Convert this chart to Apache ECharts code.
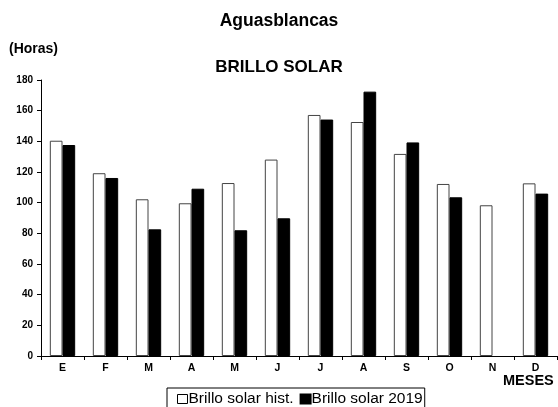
<!DOCTYPE html>
<html><head><meta charset="utf-8">
<script src="https://cdn.jsdelivr.net/npm/echarts@6/dist/echarts.min.js"></script>
<style>html,body{margin:0;padding:0;background:#fff}#c{width:558px;height:407px}</style>
</head><body><div id="c"></div>
<script>
const months = ['E','F','M','A','M','J','J','A','S','O','N','D'];
const histValues = [140.4,119.2,102.2,99.6,112.8,128.1,157.2,152.6,131.8,112.2,98.3,112.6];
const values2019 = [137.6,116.1,82.6,109.1,82.0,89.8,154.2,172.4,139.3,103.5,null,105.9];
const yTicks = [0,20,40,60,80,100,120,140,160,180];
const F = 'Liberation Sans, Arial, sans-serif';
const chart = echarts.init(document.getElementById('c'));
chart.setOption({
  animation:false,
  backgroundColor:'#fff',
  title:[
    {text:'Aguasblancas',left:'center',top:12,padding:0,textStyle:{fontFamily:F,fontSize:17.5,fontWeight:'bold',color:'#000'}},
    {text:'BRILLO SOLAR',left:'center',top:59,padding:0,textStyle:{fontFamily:F,fontSize:17,fontWeight:'bold',color:'#000'}},
    {text:'(Horas)',left:9,top:42,padding:0,textStyle:{fontFamily:F,fontSize:14,fontWeight:'bold',color:'#000'}},
    {text:'MESES',left:503,top:373,padding:0,textStyle:{fontFamily:F,fontSize:14.5,fontWeight:'bold',color:'#000'}}
  ],
  legend:{
    left:167,top:388,
    padding:[3,2,14,10],itemGap:6,itemWidth:10,itemHeight:9,
    borderColor:'#000',borderWidth:1,borderRadius:0,
    textStyle:{fontFamily:F,fontSize:15.5,color:'#000',padding:[0,0,0,-4]},
    data:[
      {name:'Brillo solar hist.',icon:'rect',itemStyle:{color:'#fff',borderColor:'#000',borderWidth:1}},
      {name:'Brillo solar 2019',icon:'rect',itemStyle:{color:'#000'}}
    ]
  },
  grid:{left:41,right:1,top:80,bottom:51},
  xAxis:{
    type:'category',data:months,
    axisLine:{lineStyle:{color:'#000',width:1}},
    axisTick:{show:true,length:4,lineStyle:{color:'#000'}},
    axisLabel:{fontFamily:F,fontSize:10.5,fontWeight:'bold',color:'#000',margin:7}
  },
  yAxis:{
    type:'value',min:0,max:180,interval:20,
    splitLine:{show:false},
    axisLine:{show:true,lineStyle:{color:'#000',width:1}},
    axisTick:{show:true,length:4,lineStyle:{color:'#000'}},
    axisLabel:{fontFamily:F,fontSize:10,fontWeight:'bold',color:'#000',margin:8,
      formatter:v=>yTicks.includes(v)?String(v):''}
  },
  series:[
    {name:'Brillo solar hist.',type:'bar',data:histValues,barGap:'0%',barCategoryGap:'41%',
     itemStyle:{color:'#fff',borderColor:'#444',borderWidth:1}},
    {name:'Brillo solar 2019',type:'bar',data:values2019,
     itemStyle:{color:'#000',borderColor:'#000',borderWidth:1}}
  ]
});
</script></body></html>
